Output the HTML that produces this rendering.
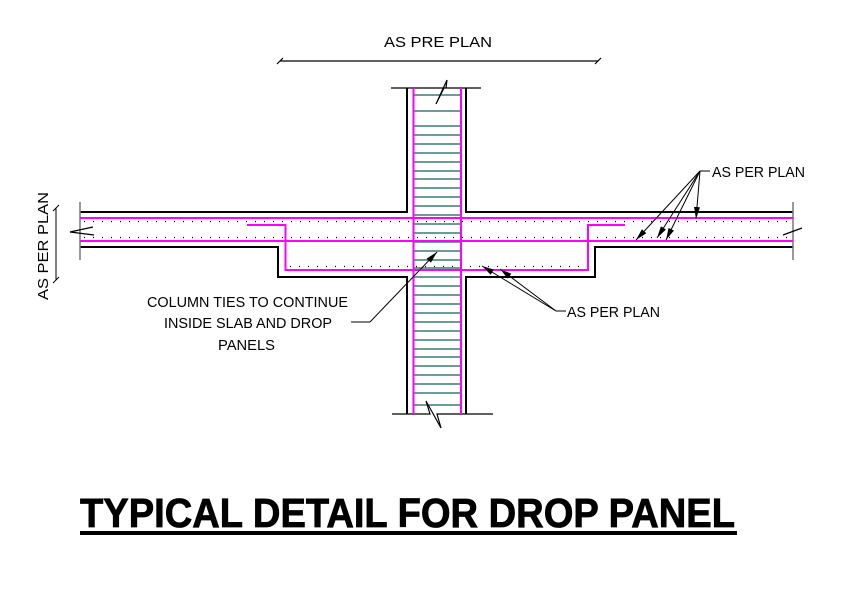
<!DOCTYPE html>
<html><head><meta charset="utf-8"><style>
html,body{margin:0;padding:0;background:#fff;}
svg{display:block;}
text{font-family:"Liberation Sans",sans-serif;fill:#000;}
</style></head><body>
<svg width="846" height="594" viewBox="0 0 846 594" xmlns="http://www.w3.org/2000/svg">
<defs>
<marker id="ah" viewBox="0 0 12 6" refX="12" refY="3" markerWidth="12" markerHeight="6" orient="auto" markerUnits="userSpaceOnUse"><path d="M0,0 L12,3 L0,6 Z" fill="#000"/></marker>
</defs>
<text x="384" y="47" font-size="15" textLength="108" lengthAdjust="spacingAndGlyphs">AS PRE PLAN</text>
<line x1="280" y1="61" x2="598" y2="61" stroke="#000" stroke-width="1.2"/>
<line x1="277" y1="64" x2="283" y2="58" stroke="#000" stroke-width="1.2"/>
<line x1="595" y1="64" x2="601" y2="58" stroke="#000" stroke-width="1.2"/>
<line x1="56" y1="208" x2="56" y2="280" stroke="#000" stroke-width="1"/>
<line x1="53" y1="211" x2="59" y2="205" stroke="#000" stroke-width="1"/>
<line x1="53" y1="283" x2="59" y2="277" stroke="#000" stroke-width="1"/>
<text x="-300" y="48" font-size="15" textLength="108" lengthAdjust="spacingAndGlyphs" transform="rotate(-90)">AS PER PLAN</text>
<g stroke="#3a7a7a" stroke-width="1.6">
<line x1="414" y1="95" x2="461" y2="95"/><line x1="414" y1="111" x2="461" y2="111"/>
<line x1="414" y1="126" x2="461" y2="126"/><line x1="414" y1="135" x2="461" y2="135"/>
<line x1="414" y1="144" x2="461" y2="144"/><line x1="414" y1="153" x2="461" y2="153"/>
<line x1="414" y1="162" x2="461" y2="162"/><line x1="414" y1="171" x2="461" y2="171"/>
<line x1="414" y1="179" x2="461" y2="179"/><line x1="414" y1="188" x2="461" y2="188"/>
<line x1="414" y1="197" x2="461" y2="197"/><line x1="414" y1="206" x2="461" y2="206"/>
<line x1="414" y1="215" x2="461" y2="215"/><line x1="414" y1="224" x2="461" y2="224"/>
<line x1="414" y1="233" x2="461" y2="233"/><line x1="414" y1="242" x2="461" y2="242"/>
<line x1="414" y1="251" x2="461" y2="251"/><line x1="414" y1="260" x2="461" y2="260"/>
<line x1="414" y1="268" x2="461" y2="268"/><line x1="414" y1="277" x2="461" y2="277"/>
<line x1="414" y1="286" x2="461" y2="286"/><line x1="414" y1="295" x2="461" y2="295"/>
<line x1="414" y1="304" x2="461" y2="304"/><line x1="414" y1="313" x2="461" y2="313"/>
<line x1="414" y1="322" x2="461" y2="322"/><line x1="414" y1="331" x2="461" y2="331"/>
<line x1="414" y1="340" x2="461" y2="340"/><line x1="414" y1="349" x2="461" y2="349"/>
<line x1="414" y1="357" x2="461" y2="357"/><line x1="414" y1="366" x2="461" y2="366"/>
<line x1="414" y1="375" x2="461" y2="375"/><line x1="414" y1="384" x2="461" y2="384"/>
<line x1="414" y1="393" x2="461" y2="393"/><line x1="414" y1="405" x2="461" y2="405"/>
</g>
<g stroke="#000" stroke-width="2" fill="none">
<path d="M407,88 V212 H80"/>
<path d="M466,88 V212 H793"/>
<path d="M80,247 H278 V277 H407 V414"/>
<path d="M793,247 H595 V277 H466 V414"/>
</g>
<line x1="80" y1="202" x2="80" y2="260" stroke="#777" stroke-width="1.5"/>
<line x1="793" y1="202" x2="793" y2="260" stroke="#777" stroke-width="1.5"/>
<g stroke="#000" stroke-width="1.2" fill="none">
<path d="M391,88 H446 L447,80 L436,104 L444,88 H481"/>
<path d="M392,414 H430 L426,401 L441,428 L437,414 H493"/>
<path d="M70,232 L93,227 M70,232 L94,235"/>
<path d="M783,235 L802,228"/>
</g>
<g stroke="#000" stroke-width="1.2" stroke-dasharray="1 8">
<line x1="84" y1="221.5" x2="792" y2="221.5"/>
<line x1="84" y1="237.5" x2="792" y2="237.5"/>
<line x1="290" y1="266.5" x2="585" y2="266.5"/>
</g>
<g stroke="#ff00ff" stroke-width="2" fill="none">
<line x1="80" y1="218" x2="793" y2="218"/>
<line x1="80" y1="241" x2="793" y2="241"/>
<path d="M247,225 H285.5 V270 H588 V225 H625"/>
<line x1="413.5" y1="88" x2="413.5" y2="414"/>
<line x1="461" y1="88" x2="461" y2="414"/>
</g>
<g stroke="#000" stroke-width="1" fill="none">
<path d="M710,171 H700"/>
<line x1="700" y1="171" x2="636" y2="240" marker-end="url(#ah)"/>
<line x1="700" y1="171" x2="657" y2="238" marker-end="url(#ah)"/>
<line x1="700" y1="171" x2="666" y2="240" marker-end="url(#ah)"/>
<line x1="700" y1="171" x2="696" y2="219" marker-end="url(#ah)"/>
<path d="M566,311 H556"/>
<line x1="556" y1="311" x2="482" y2="266" marker-end="url(#ah)"/>
<line x1="556" y1="311" x2="500" y2="269" marker-end="url(#ah)"/>
<path d="M351,322 H370"/>
<line x1="370" y1="322" x2="437" y2="252" marker-end="url(#ah)"/>
</g>
<text x="712" y="177" font-size="15" textLength="93" lengthAdjust="spacingAndGlyphs">AS PER PLAN</text>
<text x="567" y="317" font-size="15" textLength="93" lengthAdjust="spacingAndGlyphs">AS PER PLAN</text>
<text font-size="14.5"><tspan x="147" y="307" textLength="201" lengthAdjust="spacingAndGlyphs">COLUMN TIES TO CONTINUE</tspan><tspan x="164" y="328" textLength="168" lengthAdjust="spacingAndGlyphs">INSIDE SLAB AND DROP</tspan><tspan x="218" y="350" textLength="57" lengthAdjust="spacingAndGlyphs">PANELS</tspan></text>
<text x="0" y="0" font-size="41" font-weight="bold" textLength="655" lengthAdjust="spacingAndGlyphs" transform="translate(80,527)" stroke="#000" stroke-width="0.8">TYPICAL DETAIL FOR DROP PANEL</text>
<rect x="80" y="531" width="657" height="4" fill="#000"/>
</svg>
</body></html>
